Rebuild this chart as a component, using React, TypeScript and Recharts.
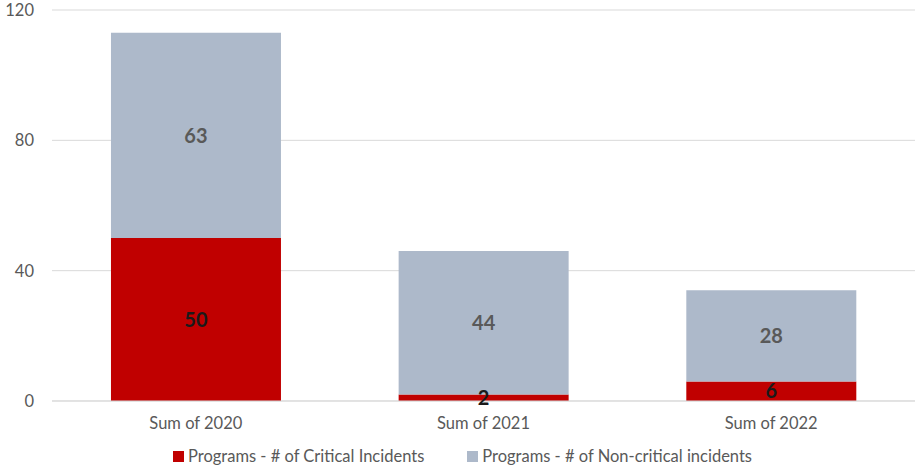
import { BarChart, Bar, XAxis, YAxis, CartesianGrid, Legend, LabelList } from 'recharts'

const categories = ['Sum of 2020', 'Sum of 2021', 'Sum of 2022']
const criticalIncidents = [50, 2, 6]
const nonCriticalIncidents = [63, 44, 28]
const yTicks = [0, 40, 80, 120]

const FONT = 'Lato, "Open Sans", sans-serif'
const TEXT = '#595959'

const data = categories.map((name, i) => ({
  name,
  critical: criticalIncidents[i],
  nonCritical: nonCriticalIncidents[i],
}))

function LegendRow({ payload }: any) {
  return (
    <div style={{ display: 'flex', alignItems: 'center', marginLeft: 173, marginTop: 3, fontSize: 16.5, fontFamily: FONT, color: TEXT }}>
      {(payload ?? []).map((p: any, i: number) => (
        <div key={p.value} style={{ display: 'flex', alignItems: 'center', marginRight: i === 0 ? 43 : 0 }}>
          <span style={{ width: 11, height: 11, background: p.color, marginRight: 4, display: 'inline-block' }} />
          <span>{p.value}</span>
        </div>
      ))}
    </div>
  )
}

export default function App() {
  return (
    <div style={{ position: 'fixed', top: 0, left: 0, background: '#fff', fontFamily: FONT }}>
      <BarChart
        width={918}
        height={466}
        data={data}
        margin={{ top: 10, right: 3, bottom: 0, left: 0 }}
        barCategoryGap="20.5%"
      >
        <CartesianGrid vertical={false} stroke="#d9d9d9" />
        <XAxis
          dataKey="name"
          axisLine={{ stroke: '#d9d9d9' }}
          tickLine={false}
          tickMargin={10}
          height={42}
          tick={{ fill: TEXT, fontSize: 16.5, fontFamily: FONT }}
        />
        <YAxis
          domain={[0, 120]}
          ticks={yTicks}
          axisLine={false}
          tickLine={false}
          tickSize={0}
          tickMargin={18}
          width={52}
          tick={{ fill: TEXT, fontSize: 16.5, fontFamily: FONT }}
        />
        <Legend
          verticalAlign="bottom"
          height={23}
          wrapperStyle={{ left: 0, width: 918 }}
          content={<LegendRow />}
        />
        <Bar
          dataKey="critical"
          name="Programs - # of Critical Incidents"
          stackId="a"
          fill="#C00000"
          isAnimationActive={false}
        >
          <LabelList dataKey="critical" position="center" fill="#1a1a1a" fontSize={20} fontWeight="bold" fontFamily={FONT} />
        </Bar>
        <Bar
          dataKey="nonCritical"
          name="Programs - # of Non-critical incidents"
          stackId="a"
          fill="#ADB9CA"
          isAnimationActive={false}
        >
          <LabelList dataKey="nonCritical" position="center" fill={TEXT} fontSize={20} fontWeight="bold" fontFamily={FONT} />
        </Bar>
      </BarChart>
    </div>
  )
}
